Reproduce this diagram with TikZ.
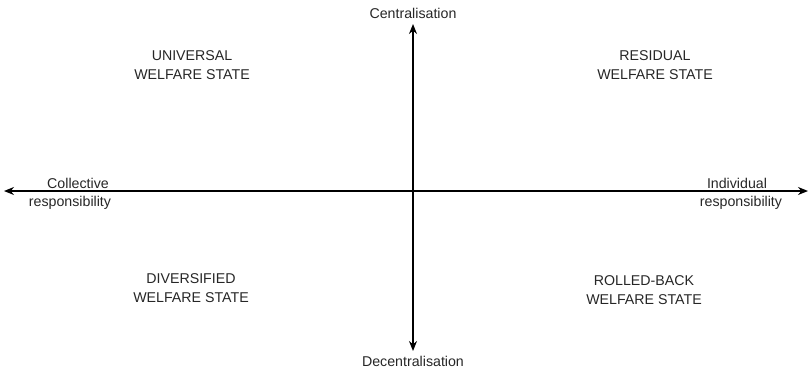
\documentclass[tikz,border=0pt]{standalone}
\usepackage{fontspec}
\setmainfont{Liberation Sans}
\usetikzlibrary{arrows.meta}
\begin{document}
\begin{tikzpicture}[x=1pt,y=-1pt,
  axis/.style={line width=1.5pt,-{Stealth[length=10pt,width=8pt]}},
  lbl/.style={font=\fontsize{14.2}{19}\selectfont,align=center,inner sep=0pt,text=black!85},
]
\useasboundingbox (0,0) rectangle (809,373);
\coordinate (o) at (413,191);
\coordinate (top) at (413,24);
\coordinate (bot) at (413,351);
\coordinate (lft) at (4,191);
\coordinate (rgt) at (808,191);
\draw[axis] (o) -- (top);
\draw[axis] (o) -- (bot);
\draw[axis] (o) -- (lft);
\draw[axis] (o) -- (rgt);
\node[lbl] (cen) at (413,13) {Centralisation};
\node[lbl] (dec) at (413,361) {Decentralisation};
\node[lbl] (col1) at (78,183) {Collective};
\node[lbl] (col2) at (70,203) {responsibility};
\node[lbl] (ind1) at (737,183) {Individual};
\node[lbl] (ind2) at (741,203) {responsibility};
\node[lbl] (uni) at (192,65) {UNIVERSAL\\WELFARE STATE};
\node[lbl] (res) at (655,65) {RESIDUAL\\WELFARE STATE};
\node[lbl] (div) at (191,288) {DIVERSIFIED\\WELFARE STATE};
\node[lbl] (rol) at (644,290) {ROLLED-BACK\\WELFARE STATE};
\end{tikzpicture}
\end{document}
